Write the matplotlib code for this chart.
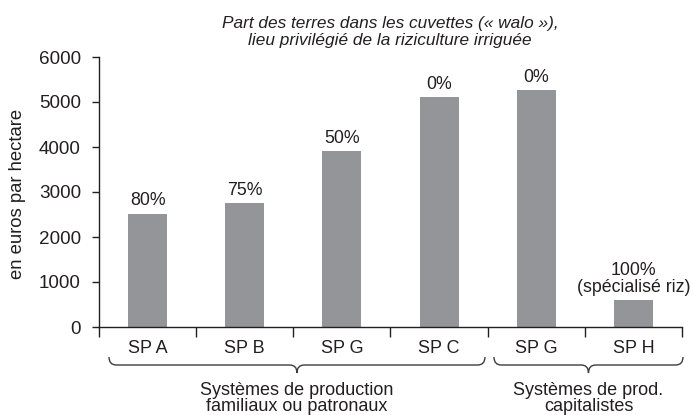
import matplotlib
matplotlib.use("Agg")
import matplotlib.pyplot as plt
from matplotlib.path import Path
from matplotlib.patches import PathPatch

# Systems and their gross margin per hectare
systems = ["SP A", "SP B", "SP G", "SP C", "SP G", "SP H"]
values = [2520, 2760, 3900, 5110, 5270, 590]
walo_share = ["80%", "75%", "50%", "0%", "0%", "100%\n(spécialisé riz)"]
yticks = [0, 1000, 2000, 3000, 4000, 5000, 6000]

groups = ["Systèmes de production\nfamiliaux ou patronaux",
          "Systèmes de prod.\ncapitalistes"]
group_spans = [(-0.397, 3.472), (3.565, 5.51)]

title = "Part des terres dans les cuvettes (« walo »),\nlieu privilégié de la riziculture irriguée"
ylabel = "en euros par hectare"

plt.rcParams["font.family"] = ["Liberation Sans", "DejaVu Sans"]
ink = "#231f20"
bar_color = "#949598"

fig = plt.figure(figsize=(6.94, 4.15), dpi=100)
ax = fig.add_axes([99 / 694, 88 / 415, 583 / 694, 270 / 415])

x = list(range(len(systems)))
ax.bar(x, values, width=0.4, color=bar_color, zorder=2)

for xi, v, lab in zip(x, values, walo_share):
    ax.annotate(lab, (xi, v), xytext=(0, 3), textcoords="offset points",
                ha="center", va="bottom", fontsize=12.8, color=ink,
                linespacing=1.0)

ax.set_xlim(-0.5, 5.5)
ax.set_ylim(0, 6000)
ax.set_yticks(yticks)
ax.set_xticks(x)
ax.set_xticklabels(systems)
ax.set_xticks([i - 0.5 for i in range(len(systems) + 1)], minor=True)
ax.tick_params(axis="x", which="major", length=0, pad=9, labelsize=13, colors=ink)
ax.tick_params(axis="x", which="minor", length=7, width=1, color=ink, direction="out")
ax.tick_params(axis="y", length=5, width=1, pad=8, labelsize=13.6, colors=ink)

for side in ("top", "right"):
    ax.spines[side].set_visible(False)
for side in ("left", "bottom"):
    ax.spines[side].set_color(ink)
    ax.spines[side].set_linewidth(1)

fig.text(17.5 / 694, 1 - 194 / 415, ylabel, rotation=90, ha="center", va="center",
         fontsize=13.3, color=ink)
fig.text(390 / 694, 1 - 32 / 415, title, ha="center", va="center",
         fontsize=12.4, style="italic", color=ink, linespacing=1.13)

# curly braces grouping the production systems
px = 1 / 270.0
y_top = -30 * px
y_mid = -38 * px
y_tip = -46 * px
rx = 0.075


def brace(x0, x1):
    xc = (x0 + x1) / 2
    verts = [(x0, y_top), (x0, y_mid), (x0 + rx, y_mid),
             (xc - rx, y_mid), (xc, y_mid), (xc, y_tip),
             (xc, y_mid), (xc + rx, y_mid),
             (x1 - rx, y_mid), (x1, y_mid), (x1, y_top)]
    codes = [Path.MOVETO, Path.CURVE3, Path.CURVE3,
             Path.LINETO, Path.CURVE3, Path.CURVE3,
             Path.CURVE3, Path.CURVE3,
             Path.LINETO, Path.CURVE3, Path.CURVE3]
    patch = PathPatch(Path(verts, codes), fill=False, edgecolor="#3c3c3c",
                      linewidth=1, transform=ax.get_xaxis_transform(),
                      clip_on=False)
    ax.add_patch(patch)
    return xc


for (x0, x1), name in zip(group_spans, groups):
    xc = brace(x0, x1)
    ax.text(xc, -54.5 * px, name, transform=ax.get_xaxis_transform(),
            ha="center", va="top", fontsize=13, color=ink, linespacing=0.95)

fig.savefig("out.png", dpi=100)
